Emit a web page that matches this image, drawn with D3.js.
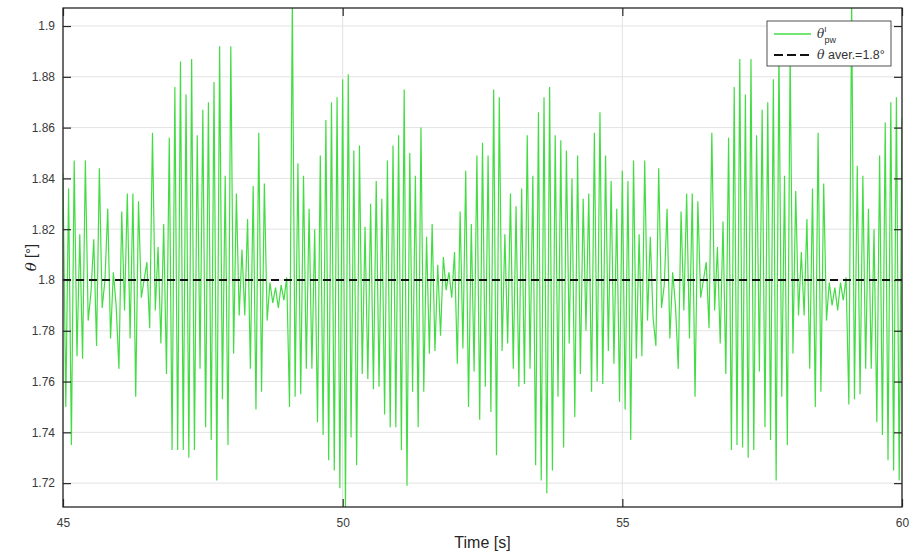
<!DOCTYPE html>
<html>
<head>
<meta charset="utf-8">
<script src="https://cdn.jsdelivr.net/npm/d3@7"></script>
<style>
    body { margin: 0; background: #fff; }
    text { font-family: "Liberation Sans", Arial, sans-serif; }
</style>
</head>
<body>
<svg id="chart" width="911" height="556"></svg>
<script>
// theta samples, one every 0.05 s from 45 s to 60 s (one row = 1 s)
const sampleStart = 45;
const sampleStep = 0.05;
const theta = [
    1.842, 1.750, 1.836, 1.735, 1.847, 1.770, 1.818, 1.769, 1.847, 1.784, 1.795, 1.816, 1.774, 1.844, 1.789, 1.800, 1.828, 1.777, 1.803, 1.790,
    1.765, 1.827, 1.788, 1.834, 1.777, 1.834, 1.754, 1.831, 1.793, 1.800, 1.807, 1.781, 1.858, 1.788, 1.813, 1.775, 1.822, 1.763, 1.856, 1.733,
    1.876, 1.733, 1.886, 1.733, 1.873, 1.730, 1.887, 1.733, 1.857, 1.765, 1.867, 1.742, 1.870, 1.737, 1.878, 1.721, 1.892, 1.753, 1.841, 1.735,
    1.892, 1.771, 1.834, 1.786, 1.812, 1.786, 1.824, 1.765, 1.837, 1.749, 1.858, 1.756, 1.838, 1.784, 1.799, 1.791, 1.797, 1.789, 1.798, 1.792,
    1.801, 1.750, 1.910, 1.754, 1.846, 1.755, 1.841, 1.765, 1.828, 1.765, 1.820, 1.744, 1.849, 1.739, 1.863, 1.729, 1.870, 1.725, 1.872, 1.718,
    1.879, 1.710, 1.881, 1.738, 1.851, 1.727, 1.853, 1.763, 1.821, 1.761, 1.830, 1.757, 1.839, 1.758, 1.832, 1.747, 1.847, 1.742, 1.853, 1.742,
    1.857, 1.733, 1.875, 1.719, 1.850, 1.756, 1.841, 1.742, 1.860, 1.756, 1.817, 1.771, 1.822, 1.772, 1.806, 1.778, 1.809, 1.796, 1.803, 1.793,
    1.811, 1.767, 1.827, 1.773, 1.843, 1.750, 1.822, 1.764, 1.849, 1.745, 1.854, 1.758, 1.849, 1.748, 1.875, 1.731, 1.872, 1.772, 1.818, 1.775,
    1.834, 1.765, 1.829, 1.758, 1.836, 1.759, 1.857, 1.765, 1.841, 1.727, 1.866, 1.721, 1.872, 1.716, 1.876, 1.725, 1.857, 1.754, 1.855, 1.734,
    1.851, 1.775, 1.840, 1.746, 1.849, 1.763, 1.832, 1.780, 1.834, 1.756, 1.858, 1.760, 1.866, 1.759, 1.849, 1.772, 1.839, 1.767, 1.828, 1.752,
    1.843, 1.749, 1.839, 1.737, 1.847, 1.769, 1.818, 1.770, 1.847, 1.784, 1.817, 1.785, 1.774, 1.844, 1.789, 1.798, 1.828, 1.777, 1.803, 1.790,
    1.765, 1.827, 1.788, 1.834, 1.777, 1.834, 1.754, 1.831, 1.793, 1.800, 1.807, 1.781, 1.858, 1.788, 1.813, 1.775, 1.823, 1.763, 1.856, 1.733,
    1.876, 1.735, 1.887, 1.734, 1.873, 1.730, 1.887, 1.733, 1.857, 1.764, 1.867, 1.742, 1.870, 1.737, 1.879, 1.721, 1.891, 1.754, 1.841, 1.735,
    1.890, 1.771, 1.835, 1.786, 1.811, 1.786, 1.824, 1.765, 1.836, 1.750, 1.858, 1.756, 1.838, 1.784, 1.799, 1.790, 1.797, 1.788, 1.799, 1.792,
    1.801, 1.751, 1.910, 1.753, 1.845, 1.755, 1.841, 1.765, 1.828, 1.765, 1.820, 1.744, 1.849, 1.739, 1.862, 1.729, 1.870, 1.725, 1.872, 1.721,
    1.864
];
const thetaAverage = 1.8;
const xDomain = [45, 60];
const yDomain = [1.7106, 1.9071];
const xTicks = [45, 50, 55, 60];
const xTickLabels = ['45', '50', '55', '60'];
const yTicks = [1.72, 1.74, 1.76, 1.78, 1.8, 1.82, 1.84, 1.86, 1.88, 1.9];
const yTickLabels = ['1.72', '1.74', '1.76', '1.78', '1.8', '1.82', '1.84', '1.86', '1.88', '1.9'];

(function () {
    let svg = d3.select('#chart'),
        margin = {top: 8, right: 9, bottom: 49, left: 63},
        width = svg.attr('width') - margin.left - margin.right,
        height = svg.attr('height') - margin.top - margin.bottom,
        g = svg.append('g').attr('transform', `translate(${margin.left},${margin.top})`)
    ;
    let x = d3.scaleLinear().domain(xDomain).range([0, width]),
        y = d3.scaleLinear().domain(yDomain).range([height, 0])
    ;
    let samples = theta.map((v, i) => ({t: sampleStart + i * sampleStep, v: v}));

    svg.append('defs').append('clipPath')
        .attr('id', 'plot-clip')
        .append('rect')
        .attr('width', width)
        .attr('height', height);

    // grid
    g.append('g').selectAll('line')
        .data(yTicks)
        .enter().append('line')
        .attr('x1', 0).attr('x2', width)
        .attr('y1', d => y(d)).attr('y2', d => y(d))
        .style('stroke', '#e2e2e2')
        .style('stroke-width', 1);
    g.append('g').selectAll('line')
        .data(xTicks)
        .enter().append('line')
        .attr('x1', d => x(d)).attr('x2', d => x(d))
        .attr('y1', 0).attr('y2', height)
        .style('stroke', '#e2e2e2')
        .style('stroke-width', 1);

    let line = d3.line()
        .x(d => x(d.t))
        .y(d => y(d.v));

    let plot = g.append('g').attr('clip-path', 'url(#plot-clip)');
    plot.append('path')
        .datum(samples)
        .attr('d', line)
        .style('fill', 'none')
        .style('stroke', '#44dc44')
        .style('stroke-width', 1.2);

    plot.append('line')
        .attr('x1', x(xDomain[0])).attr('x2', x(xDomain[1]))
        .attr('y1', y(thetaAverage)).attr('y2', y(thetaAverage))
        .style('stroke', '#111')
        .style('stroke-width', 2)
        .style('stroke-dasharray', '8,5');

    // axes, ticks pointing inside like matlab
    let styleAxis = sel => {
        sel.select('.domain').remove();
        sel.selectAll('line').style('stroke', '#262626').style('stroke-width', 1.2);
        sel.selectAll('text').style('font-size', '12px').style('fill', '#3a3a3a');
    };
    g.append('g')
        .attr('transform', `translate(0,${height})`)
        .call(d3.axisBottom(x).tickValues(xTicks).tickFormat((d, i) => xTickLabels[i])
            .tickSizeInner(-8).tickSizeOuter(0).tickPadding(11))
        .call(styleAxis);
    g.append('g')
        .call(d3.axisTop(x).tickValues(xTicks).tickFormat('')
            .tickSizeInner(-8).tickSizeOuter(0))
        .call(styleAxis);
    g.append('g')
        .call(d3.axisLeft(y).tickValues(yTicks).tickFormat((d, i) => yTickLabels[i])
            .tickSizeInner(-8).tickSizeOuter(0).tickPadding(8))
        .call(styleAxis);
    g.append('g')
        .attr('transform', `translate(${width},0)`)
        .call(d3.axisRight(y).tickValues(yTicks).tickFormat('')
            .tickSizeInner(-8).tickSizeOuter(0))
        .call(styleAxis);

    g.append('rect')
        .attr('width', width)
        .attr('height', height)
        .style('fill', 'none')
        .style('stroke', '#262626')
        .style('stroke-width', 1.3);

    // axis labels
    svg.append('text')
        .attr('x', margin.left + width / 2)
        .attr('y', 548)
        .attr('text-anchor', 'middle')
        .style('font-size', '16px')
        .style('fill', '#262626')
        .text('Time [s]');

    let yl = svg.append('text')
        .attr('transform', `translate(36,${margin.top + height / 2}) rotate(-90)`)
        .attr('text-anchor', 'middle')
        .style('font-size', '15px')
        .style('fill', '#262626');
    yl.append('tspan').style('font-style', 'italic').style('font-family', 'DejaVu Serif, serif').text('θ');
    yl.append('tspan').text(' [°]');

    // legend
    let lg = svg.append('g').attr('transform', 'translate(767,21)');
    lg.append('rect')
        .attr('width', 124)
        .attr('height', 45)
        .style('fill', '#fff')
        .style('stroke', '#262626')
        .style('stroke-width', 0.8);
    lg.append('line')
        .attr('x1', 7).attr('x2', 44).attr('y1', 13).attr('y2', 13)
        .style('stroke', '#44dc44').style('stroke-width', 1.4);
    lg.append('line')
        .attr('x1', 7).attr('x2', 44).attr('y1', 34).attr('y2', 34)
        .style('stroke', '#111').style('stroke-width', 2)
        .style('stroke-dasharray', '9,4');
    let t1 = lg.append('text')
        .attr('x', 50).attr('y', 17)
        .style('font-size', '12px')
        .style('fill', '#333');
    t1.append('tspan').style('font-style', 'italic').style('font-family', 'DejaVu Serif, serif').text('θ');
    t1.append('tspan').attr('dy', -6).style('font-size', '8px').text('I');
    t1.append('tspan').attr('dx', -2).attr('dy', 11).style('font-size', '9px').text('pw');
    let t2 = lg.append('text')
        .attr('x', 50).attr('y', 38)
        .style('font-size', '12.5px')
        .style('fill', '#333');
    t2.append('tspan').style('font-style', 'italic').style('font-family', 'DejaVu Serif, serif').text('θ');
    t2.append('tspan').text(' aver.=1.8°');
}());
</script>
</body>
</html>
